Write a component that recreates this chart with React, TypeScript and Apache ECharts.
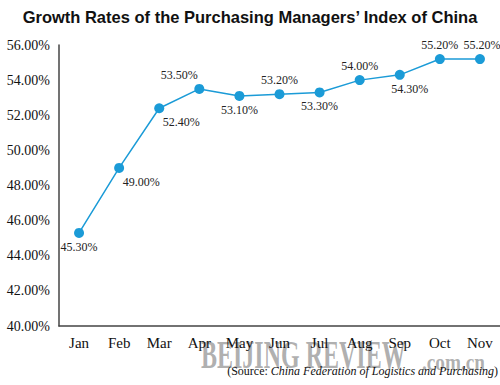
import React, { useEffect, useRef } from "react";
import * as echarts from "echarts";

const months = ["Jan", "Feb", "Mar", "Apr", "May", "Jun", "Jul", "Aug", "Sep", "Oct", "Nov"];
const pmiValues = [45.3, 49.0, 52.4, 53.5, 53.1, 53.2, 53.3, 54.0, 54.3, 55.2, 55.2];
const labelPositions = ["bottom", "bottom", "bottom", "top", "bottom", "top", "bottom", "top", "bottom", "top", "top"];
const labelOffsets: number[][] = [[0, 0], [22, 0], [22, 0], [-20, 0], [0, 0], [0, 0], [0, 0], [0, 0], [10, 0], [0, 0], [2, 0]];

export default function App() {
  const ref = useRef<HTMLDivElement>(null);
  useEffect(() => {
    const chart = echarts.init(ref.current!, null, { renderer: "svg" });
    const serif = "'Liberation Serif', 'Times New Roman', 'DejaVu Serif', serif";
    chart.setOption({
      animation: false,
      backgroundColor: "#ffffff",
      title: {
        text: "Growth Rates of the Purchasing Managers\u2019 Index of China",
        left: "center",
        top: 3,
        textStyle: { fontFamily: "'Liberation Sans', Arial, sans-serif", fontWeight: "bold", fontSize: 16.5, color: "#111" },
      },
      grid: { left: 59, right: 0, top: 45, bottom: 59, containLabel: false },
      xAxis: {
        type: "category",
        data: months,
        boundaryGap: true,
        axisLine: { lineStyle: { color: "#444", width: 1.5 } },
        axisTick: { show: false },
        axisLabel: { fontFamily: serif, fontSize: 15, color: "#111", margin: 9 },
      },
      yAxis: {
        type: "value",
        min: 40,
        max: 56,
        interval: 2,
        axisLine: { show: true, lineStyle: { color: "#444", width: 1.5 } },
        axisTick: { show: false },
        splitLine: { show: false },
        axisLabel: {
          fontFamily: serif,
          fontSize: 14,
          color: "#111",
          margin: 9,
          formatter: (v: number) => v.toFixed(2) + "%",
        },
      },
      series: [
        {
          type: "line",
          data: pmiValues.map((v, i) => ({
            value: v,
            label: { position: labelPositions[i], offset: labelOffsets[i] },
          })),
          symbol: "circle",
          symbolSize: 10,
          lineStyle: { color: "#1b9bd7", width: 1.5 },
          itemStyle: { color: "#1b9bd7" },
          label: {
            show: true,
            distance: 3,
            fontFamily: serif,
            fontSize: 12,
            color: "#222",
            formatter: (p: any) => Number(p.value).toFixed(2) + "%",
          },
        },
      ],
      graphic: [
        {
          type: "text",
          x: 201,
          y: 355,
          scaleX: 0.6,
          z: 0,
          style: {
            text: "BEIJING REVIEW",
            fontFamily: serif,
            fontWeight: "bold",
            fontSize: 40,
            fill: "rgba(150,150,150,0.75)",
            textVerticalAlign: "middle",
          },
        },
        {
          type: "text",
          x: 422,
          y: 362,
          scaleX: 0.8,
          z: 0,
          style: {
            text: ".com.cn",
            fontFamily: serif,
            fontWeight: "bold",
            fontSize: 24,
            fill: "rgba(150,150,150,0.75)",
            textVerticalAlign: "middle",
          },
        },
        {
          type: "text",
          right: 2,
          top: 365,
          z: 10,
          style: {
            text: "(Source: {i|China Federation of Logistics and Purchasing})",
            fontFamily: serif,
            fontSize: 12,
            fill: "#111",
            rich: {
              i: { fontFamily: serif, fontStyle: "italic", fontSize: 12, fill: "#111" },
            },
          },
        },
      ],
    });
    return () => chart.dispose();
  }, []);
  return <div ref={ref} style={{ width: 500, height: 385, position: "absolute", left: 0, top: 0 }} />;
}
